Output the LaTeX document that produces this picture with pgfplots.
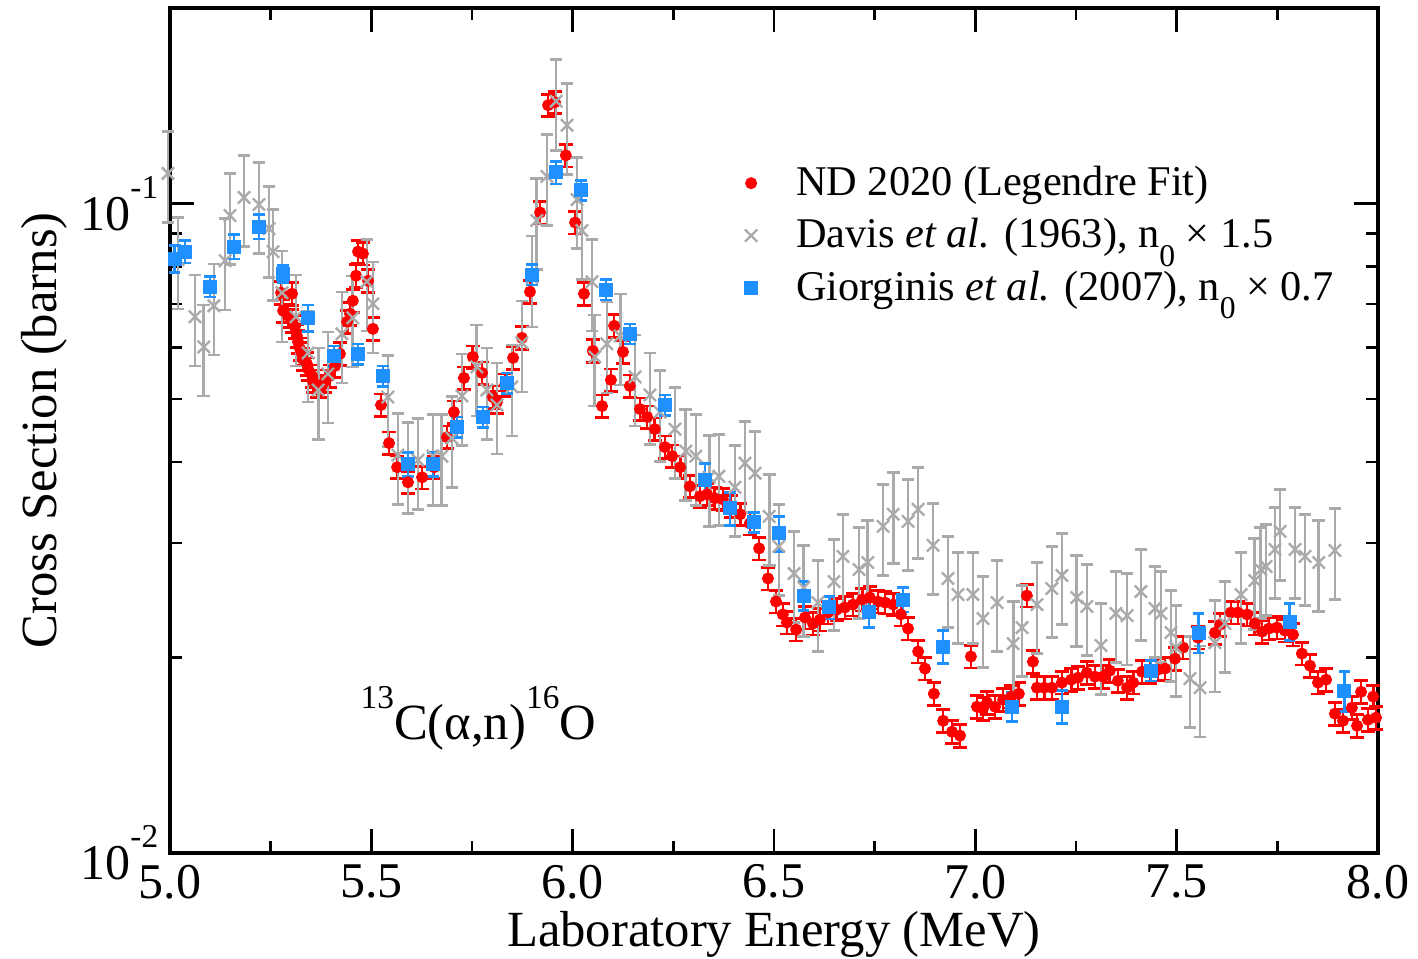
\documentclass[border=0pt]{standalone}
\usepackage{pgfplots}
\pgfplotsset{compat=1.18}
\usepackage{pgfplotstable}
\usepackage{fontspec}
\setmainfont{Liberation Serif}
\definecolor{ndred}{RGB}{255,0,0}
\definecolor{dgray}{RGB}{170,170,170}
\definecolor{gblue}{RGB}{30,144,255}
\newcommand{\expo}[1]{\raisebox{9.5pt}{\fontsize{10}{10}\selectfont #1}}
\newcommand{\nsub}{n\raisebox{-5.5pt}{\fontsize{9.5}{9.5}\selectfont 0}}

\pgfplotstableread{
E v
5.276 0.07289
5.303 0.07263
5.281 0.06838
5.293 0.06717
5.303 0.06599
5.310 0.06459
5.315 0.06256
5.318 0.06124
5.323 0.05973
5.328 0.05869
5.330 0.05764
5.340 0.05664
5.343 0.05563
5.353 0.05427
5.355 0.05331
5.365 0.05237
5.377 0.05237
5.385 0.05331
5.397 0.05427
5.410 0.05623
5.422 0.05869
5.440 0.06575
5.447 0.06766
5.454 0.07084
5.462 0.07743
5.467 0.08432
5.479 0.08373
5.492 0.07606
5.504 0.06413
5.524 0.04895
5.544 0.04277
5.564 0.03927
5.591 0.03723
5.626 0.03789
5.656 0.03927
5.688 0.04368
5.705 0.04775
5.730 0.05388
5.752 0.05806
5.775 0.05485
5.802 0.05036
5.812 0.04948
5.832 0.05256
5.852 0.05785
5.874 0.06211
5.894 0.07315
5.919 0.09687
5.939 0.14168
5.956 0.14320
5.983 0.11862
6.006 0.09349
6.028 0.07263
6.050 0.05931
6.073 0.04877
6.095 0.05350
6.103 0.06482
6.125 0.05910
6.142 0.05237
6.167 0.04826
6.185 0.04691
6.204 0.04494
6.229 0.04216
6.247 0.04084
6.267 0.03927
6.291 0.03670
6.316 0.03542
6.334 0.03568
6.353 0.03517
6.373 0.03504
6.393 0.03419
6.416 0.03323
6.440 0.03218
6.463 0.02945
6.485 0.02647
6.505 0.02439
6.522 0.02330
6.532 0.02264
6.555 0.02208
6.577 0.02305
6.597 0.02256
6.614 0.02288
6.634 0.02346
6.656 0.02371
6.676 0.02388
6.696 0.02413
6.719 0.02456
6.738 0.02474
6.758 0.02439
6.776 0.02430
6.796 0.02413
6.815 0.02330
6.833 0.02216
6.858 0.02043
6.875 0.01923
6.897 0.01759
6.920 0.01598
6.942 0.01537
6.962 0.01516
6.989 0.02007
7.004 0.01680
7.019 0.01668
7.029 0.01704
7.049 0.01680
7.069 0.01722
7.089 0.01741
7.108 0.01759
7.128 0.02491
7.143 0.01971
7.153 0.01797
7.171 0.01797
7.190 0.01797
7.215 0.01830
7.238 0.01849
7.255 0.01862
7.277 0.01895
7.297 0.01869
7.317 0.01869
7.334 0.01909
7.354 0.01842
7.377 0.01797
7.392 0.01830
7.414 0.01902
7.434 0.01902
7.454 0.01916
7.471 0.01923
7.496 0.01992
7.516 0.02072
7.553 0.02146
7.595 0.02184
7.608 0.02247
7.635 0.02346
7.652 0.02346
7.675 0.02330
7.694 0.02256
7.712 0.02192
7.729 0.02216
7.749 0.02224
7.769 0.02200
7.789 0.02169
7.811 0.02028
7.831 0.01943
7.851 0.01830
7.871 0.01849
7.893 0.01639
7.913 0.01598
7.935 0.01674
7.948 0.01570
7.958 0.01771
7.975 0.01604
7.988 0.01741
7.995 0.01616
}\ndtable

\pgfplotstableread{
E v
4.995 0.11128
5.020 0.08195
5.062 0.06693
5.084 0.06016
5.109 0.06960
5.137 0.08166
5.149 0.09582
5.184 0.10216
5.221 0.09965
5.246 0.09150
5.256 0.08432
5.278 0.07289
5.313 0.06693
5.343 0.05889
5.368 0.05163
5.392 0.05466
5.427 0.06301
5.454 0.06669
5.489 0.07580
5.504 0.07010
5.541 0.05035
5.566 0.04098
5.591 0.03970
5.616 0.04026
5.653 0.04083
5.675 0.04083
5.700 0.04352
5.725 0.05054
5.762 0.05603
5.787 0.05163
5.812 0.04896
5.849 0.05219
5.874 0.06103
5.899 0.07688
5.911 0.09415
5.936 0.11009
5.959 0.14371
5.986 0.13197
6.011 0.10142
6.023 0.09086
6.048 0.07580
6.055 0.05806
6.085 0.06081
6.118 0.06256
6.155 0.05408
6.192 0.05072
6.217 0.04775
6.254 0.04494
6.281 0.04157
6.306 0.04083
6.339 0.03789
6.363 0.03803
6.403 0.03657
6.428 0.03984
6.453 0.03844
6.488 0.03299
6.512 0.02966
6.550 0.02694
6.574 0.02563
6.609 0.02430
6.649 0.02618
6.671 0.02862
6.711 0.02732
6.733 0.02801
6.771 0.03184
6.796 0.03323
6.833 0.03241
6.858 0.03382
6.895 0.02976
6.932 0.02647
6.957 0.02500
6.994 0.02500
7.019 0.02296
7.054 0.02430
7.094 0.02101
7.116 0.02224
7.153 0.02413
7.190 0.02554
7.215 0.02675
7.252 0.02474
7.277 0.02397
7.312 0.02087
7.349 0.02338
7.377 0.02320
7.411 0.02527
7.446 0.02380
7.461 0.02338
7.486 0.02185
7.498 0.02072
7.533 0.01856
7.558 0.01797
7.595 0.02108
7.620 0.02256
7.660 0.02500
7.694 0.02628
7.709 0.02732
7.722 0.02762
7.744 0.02934
7.757 0.03128
7.794 0.02934
7.819 0.02862
7.853 0.02801
7.893 0.02924
}\davistable

\pgfplotstableread{
E v e
5.012 0.08224 0.047
5.037 0.08432 0.040
5.099 0.07446 0.036
5.159 0.08583 0.043
5.221 0.09216 0.043
5.281 0.07798 0.030
5.343 0.06669 0.047
5.407 0.05827 0.036
5.467 0.05869 0.036
5.529 0.05427 0.036
5.591 0.03970 0.043
5.653 0.03970 0.043
5.713 0.04527 0.036
5.777 0.04691 0.036
5.837 0.05294 0.036
5.899 0.07771 0.036
5.959 0.11168 0.040
6.021 0.10474 0.036
6.083 0.07366 0.036
6.142 0.06301 0.036
6.229 0.04896 0.036
6.329 0.03749 0.062
6.391 0.03394 0.058
6.450 0.03230 0.036
6.512 0.03106 0.062
6.574 0.02491 0.051
6.637 0.02388 0.040
6.736 0.02346 0.051
6.820 0.02456 0.043
6.920 0.02079 0.058
7.091 0.01680 0.051
7.215 0.01680 0.058
7.436 0.01909 0.036
7.555 0.02185 0.070
7.781 0.02272 0.066
7.916 0.01778 0.070
}\giotable

\begin{document}
\begin{tikzpicture}
\begin{axis}[
  name=ax,
  scale only axis,
  width=362.4pt, height=253.5pt,
  xmin=5, xmax=8,
  ymode=log, ymin=0.01, ymax=0.2,
  xtick={5,5.5,6,6.5,7,7.5,8},
  minor xtick={5.25,5.75,6.25,6.75,7.25,7.75},
  ytick={0.01,0.1},
  yticklabels={10\expo{-2},10\expo{-1}},
  minor ytick={0.02,0.03,0.04,0.05,0.06,0.07,0.08,0.09},
  tick align=inside,
  major tick length=7.3pt,
  minor tick length=3.6pt,
  every tick/.style={line width=0.8pt, black},
  axis line style={line width=1pt},
  xticklabel style={/pgf/number format/.cd, fixed, fixed zerofill, precision=1, assume math mode=true},
  ticklabel style={font=\fontsize{15}{18}\selectfont},
  label style={font=\fontsize{15.2}{18}\selectfont},
  xlabel={Laboratory Energy (MeV)},
  ylabel={Cross Section (barns)},
  xlabel style={yshift=3pt},
  ylabel style={yshift=-3pt},
  legend style={at={(0.467,0.8296)}, anchor=north west, draw=none, fill=none,
    font=\fontsize{12.7}{15}\selectfont, row sep=1.4pt, column sep=9.6pt},
  legend cell align=left,
  clip=false,
]
\addplot[only marks, mark=*, mark size=1.6pt, color=ndred,
  error bars/.cd, y dir=both, y explicit relative,
  error bar style={line width=0.8pt, ndred},
  error mark options={rotate=90, mark size=2.1pt, line width=0.8pt, ndred}]
  table[x=E, y=v, y error expr=0.04] {\ndtable};
\addlegendentry{ND 2020 (Legendre Fit)}

\addplot[only marks, mark=x, mark size=2.6pt, color=dgray, mark options={line width=0.7pt},
  error bars/.cd, y dir=both, y explicit relative,
  error bar style={line width=0.8pt, dgray},
  error mark options={rotate=90, mark size=1.9pt, line width=0.8pt, dgray}]
  table[x=E, y=v, y error expr=0.16] {\davistable};
\addlegendentry{Davis \textit{et al.} (1963), \nsub{} × 1.5}

\addplot[only marks, mark=square*, mark size=1.9pt, color=gblue,
  error bars/.cd, y dir=both, y explicit relative,
  error bar style={line width=0.8pt, gblue},
  error mark options={rotate=90, mark size=1.7pt, line width=0.8pt, gblue}]
  table[x=E, y=v, y error=e] {\giotable};
\addlegendentry{Giorginis \textit{et al.} (2007), \nsub{} × 0.7}

\node[anchor=base west, inner sep=0pt, font=\fontsize{15.2}{18}\selectfont]
  at (axis cs:5.472,0.01494) {\expo{13}C(α,n)\expo{16}O};
\end{axis}
\pgfresetboundingbox
\path ([xshift=-51pt,yshift=-31.5pt]ax.south west) rectangle ([xshift=12pt,yshift=2.4pt]ax.north east);
\end{tikzpicture}
\end{document}
